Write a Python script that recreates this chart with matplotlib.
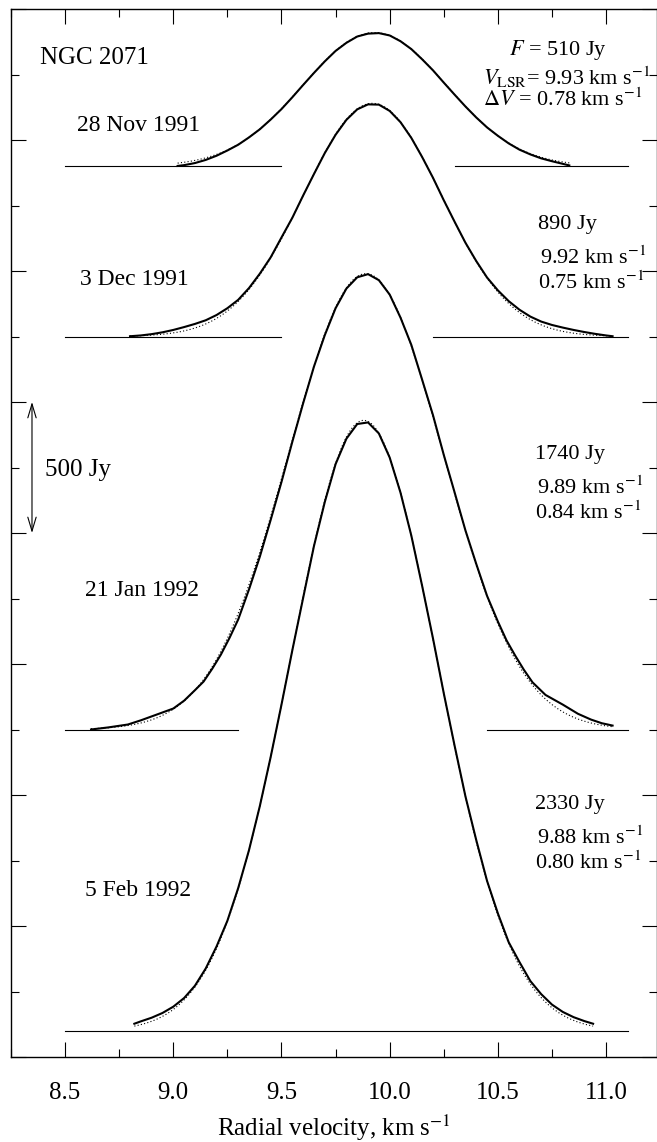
import numpy as np
import matplotlib
matplotlib.use("Agg")
import matplotlib.pyplot as plt
from matplotlib.ticker import MultipleLocator, NullFormatter

plt.rcParams["font.family"] = ["Liberation Serif", "DejaVu Serif"]
plt.rcParams["mathtext.fontset"] = "stix"

# observation dates and Gaussian fit parameters
dates = ["28 Nov 1991", "3 Dec 1991", "21 Jan 1992", "5 Feb 1992"]
peak_flux = [510, 890, 1740, 2330]          # Jy
v_lsr = [9.93, 9.92, 9.89, 9.88]           # km/s
delta_v = [0.78, 0.75, 0.84, 0.80]         # km/s (FWHM)
offsets = [3400, 2750, 1250, 100]          # vertical shift of each spectrum, Jy

# baseline segments for each spectrum (km/s)
baselines = [
    [(8.5, 9.5), (10.3, 11.1)],
    [(8.5, 9.5), (10.2, 11.1)],
    [(8.5, 9.3), (10.45, 11.1)],
    [(8.5, 11.1)],
]

vel_nov28 = [9.02, 9.05, 9.1, 9.15, 9.2, 9.25, 9.3, 9.35, 9.4, 9.45, 9.5,
             9.55, 9.6, 9.65, 9.7, 9.75, 9.8, 9.85, 9.9, 9.95, 10.0, 10.05,
             10.1, 10.15, 10.2, 10.25, 10.3, 10.35, 10.4, 10.45, 10.5, 10.55,
             10.6, 10.65, 10.7, 10.75, 10.8, 10.83]
flux_nov28 = [1, 4, 12, 24, 40, 60, 82, 110, 141, 178, 218,
              263, 310, 356, 400, 440, 471, 495, 506, 508, 499, 477,
              447, 408, 366, 319, 273, 228, 186, 148, 116, 87,
              63, 45, 30, 19, 9, 3]

vel_dec03 = [8.80, 8.85, 8.9, 8.95, 9.0, 9.05, 9.1, 9.15, 9.2, 9.25, 9.3,
             9.35, 9.4, 9.45, 9.5, 9.55, 9.6, 9.65, 9.7, 9.75, 9.8, 9.85,
             9.9, 9.95, 10.0, 10.05, 10.1, 10.15, 10.2, 10.25, 10.3, 10.35,
             10.4, 10.45, 10.5, 10.55, 10.6, 10.65, 10.7, 10.75, 10.8, 10.85,
             10.9, 10.95, 11.0, 11.03]
flux_dec03 = [1, 4, 9, 16, 25, 36, 48, 62, 82, 108, 140,
              185, 240, 302, 378, 453, 538, 620, 700, 770, 827, 867,
              886, 885, 861, 818, 758, 685, 606, 520, 438, 358,
              288, 225, 176, 135, 102, 76, 57, 44, 34, 25,
              17, 10, 4, 1]

vel_jan21 = [8.62, 8.7, 8.79, 8.85, 8.9, 8.95, 9.0, 9.05, 9.1, 9.14, 9.18,
             9.22, 9.26, 9.3, 9.35, 9.4, 9.45, 9.5, 9.55, 9.6, 9.65, 9.7,
             9.75, 9.8, 9.85, 9.9, 9.95, 10.0, 10.05, 10.1, 10.15, 10.2,
             10.25, 10.3, 10.35, 10.4, 10.45, 10.5, 10.54, 10.58, 10.62,
             10.66, 10.72, 10.8, 10.87, 10.93, 10.98, 11.03]
flux_jan21 = [0, 8, 19, 35, 50, 65, 80, 110, 150, 183, 232,
              286, 350, 420, 535, 660, 800, 945, 1098, 1245, 1385, 1505,
              1608, 1683, 1726, 1738, 1715, 1660, 1572, 1468, 1335, 1200,
              1048, 905, 760, 632, 510, 412, 340, 282, 228,
              180, 132, 95, 60, 38, 24, 15]

vel_feb05 = [8.82, 8.85, 8.9, 8.95, 9.0, 9.05, 9.1, 9.15, 9.2, 9.25, 9.3,
             9.35, 9.4, 9.45, 9.5, 9.55, 9.6, 9.65, 9.7, 9.75, 9.8, 9.85,
             9.9, 9.95, 10.0, 10.05, 10.1, 10.15, 10.2, 10.25, 10.3, 10.35,
             10.4, 10.45, 10.5, 10.55, 10.6, 10.65, 10.7, 10.75, 10.8, 10.85,
             10.9, 10.94]
flux_feb05 = [27, 36, 50, 68, 92, 125, 172, 238, 322, 420, 545,
              690, 858, 1045, 1245, 1452, 1652, 1850, 2018, 2163, 2260, 2316,
              2322, 2280, 2188, 2054, 1890, 1698, 1498, 1288, 1088, 895,
              728, 572, 448, 338, 262, 190, 140, 100, 72, 52,
              37, 27]

profiles = [
    (vel_nov28, flux_nov28),
    (vel_dec03, flux_dec03),
    (vel_jan21, flux_jan21),
    (vel_feb05, flux_feb05),
]

# label positions (km/s, Jy)
date_pos = [(8.555, 3557), (8.57, 2966), (8.59, 1782), (8.59, 637)]
param_pos = [(10.686, 3176), (10.67, 2298), (10.67, 962)]


def gauss(v, f, v0, dv):
    return f * np.exp(-4 * np.log(2) * (v - v0) ** 2 / dv ** 2)


fig = plt.figure(figsize=(6.57, 11.42), dpi=100)
ax = fig.add_axes([11 / 657, 85 / 1142, 645.5 / 657, 1048 / 1142])

for i, (vel, flux) in enumerate(profiles):
    off = offsets[i]
    for a, b in baselines[i]:
        ax.plot([a, b], [off, off], color="black", lw=0.8)
    vv = np.linspace(vel[0], vel[-1], 200)
    ax.plot(vv, gauss(vv, peak_flux[i], v_lsr[i], delta_v[i]) + off,
            color="black", lw=0.8, ls=(0, (1, 2)))
    ax.plot(vel, np.array(flux) + off, color="black", lw=1.5)
    ax.text(date_pos[i][0], date_pos[i][1], dates[i], fontsize=17,
            ha="left", va="center")

fs = 16
ax.text(8.384, 3813, "NGC 2071", fontsize=18, ha="left", va="center")
ax.text(10.55, 3843, "$F$ = %d Jy" % peak_flux[0], fontsize=fs,
        ha="left", va="center")
ax.text(10.43, 3740, "$V_{\\rm LSR}$= %.2f km s$^{-1}$" % v_lsr[0],
        fontsize=fs, ha="left", va="center")
ax.text(10.43, 3653, "$\\Delta V$ = %.2f km s$^{-1}$" % delta_v[0],
        fontsize=fs, ha="left", va="center")

for k, (px, py) in enumerate(param_pos):
    i = k + 1
    ax.text(px, py, "%d Jy" % peak_flux[i], fontsize=fs, ha="left", va="center")
    ax.text(px + 0.01, py - 125, "%.2f km s$^{-1}$" % v_lsr[i], fontsize=fs,
            ha="left", va="center")
    ax.text(px, py - 220, "%.2f km s$^{-1}$" % delta_v[i], fontsize=fs,
            ha="left", va="center")

# 500 Jy scale bar
ax.annotate("", xy=(8.347, 2000), xytext=(8.347, 2500),
            arrowprops=dict(arrowstyle="<->,head_length=0.5,head_width=0.15",
                            color="black", lw=0.8,
                            shrinkA=0, shrinkB=0, mutation_scale=20))
ax.text(8.408, 2240, "500 Jy", fontsize=18, ha="left", va="center")

ax.set_xlim(8.25, 11.233)
ax.set_ylim(0, 4000)
ax.xaxis.set_major_locator(MultipleLocator(0.5))
ax.xaxis.set_minor_locator(MultipleLocator(0.25))
ax.yaxis.set_major_locator(MultipleLocator(500))
ax.yaxis.set_minor_locator(MultipleLocator(250))
ax.yaxis.set_major_formatter(NullFormatter())
ax.xaxis.set_major_formatter(plt.FuncFormatter(lambda x, p: "%.1f" % x))
ax.tick_params(which="both", direction="in", top=True, right=True, width=0.8)
ax.tick_params(which="major", length=10.5)
ax.tick_params(which="minor", length=5.5)
ax.tick_params(axis="x", labelsize=18, pad=18)
for s in ax.spines.values():
    s.set_linewidth(1.0)

ax.set_xlabel("Radial velocity, km s$^{-1}$", fontsize=18, labelpad=6)

fig.savefig("out.png", dpi=100)
